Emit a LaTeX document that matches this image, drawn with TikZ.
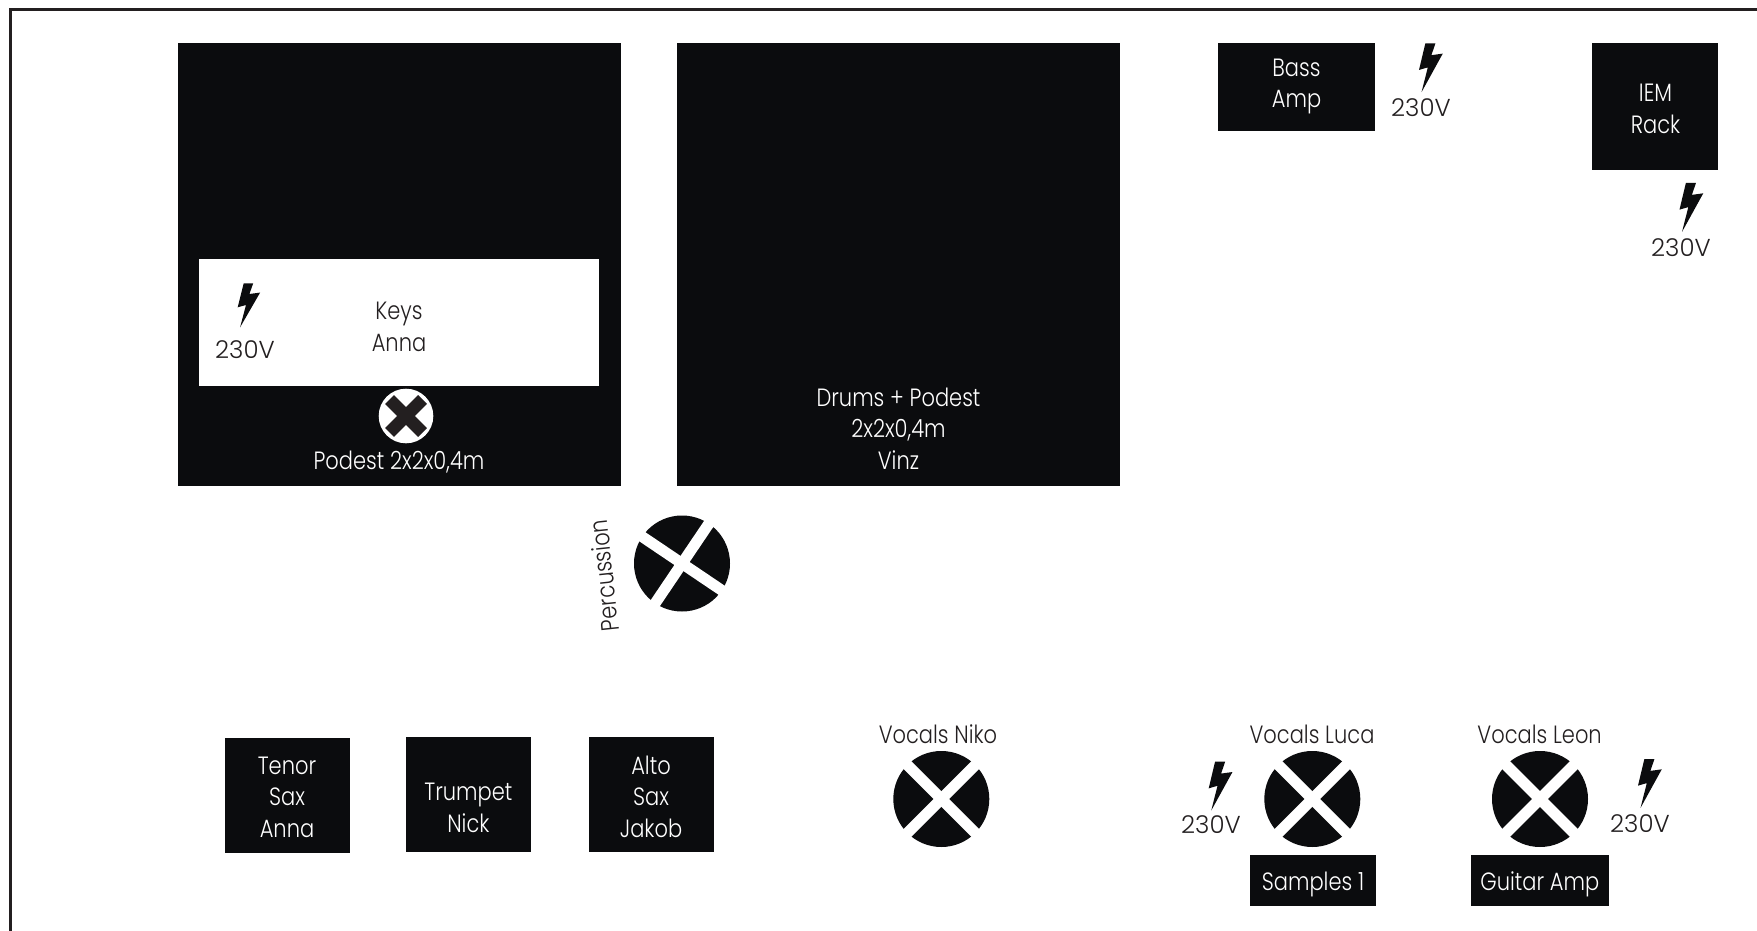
\documentclass[tikz,border=0pt]{standalone}
\usepackage{fontspec}
\setmainfont{Poppins Light}[FakeStretch=0.84]
\newfontfamily\voltfont{Poppins Light}
\definecolor{boxk}{HTML}{0B0C0E}
\definecolor{inkk}{HTML}{231F20}
\tikzset{
  lbl/.style={font=\fontsize{25}{31.6}\selectfont,align=center,inner sep=0pt,text=inkk},
  wlbl/.style={lbl,text=white},
  volt/.style={font=\voltfont\fontsize{24.5}{30}\selectfont,inner sep=0pt,text=inkk},
  blackbox/.style={fill=boxk,inner sep=0pt,minimum width=#1},
  mic/.style={circle,fill=boxk,minimum size=96pt,inner sep=0pt},
  gap/.style={draw=white,line width=11pt,shorten >=-6pt,shorten <=-6pt},
  pics/bolt/.style={code={\fill[boxk] (6,0)--(15.5,0)--(11.7,10.7)--(22.4,9.3)--(2.4,44)--(8.3,21.7)--(0,24)--cycle;}}
}
\begin{document}
\begin{tikzpicture}[x=1pt,y=-1pt]
\useasboundingbox (0,0) rectangle (1757,931);
\fill[white] (0,0) rectangle (1757,931);
\draw[line width=3.5pt,color=inkk] (10.5,931) -- (10.5,9.5) -- (1757,9.5);
% stage risers
\node[blackbox=443pt,minimum height=443pt] (keysriser) at (399.5,264.5) {};
\node[fill=white,minimum width=400pt,minimum height=126.5pt,inner sep=0pt] (keysdesk) at (399,322.5) {};
\node[lbl] (keys) at (399,327) {Keys\\Anna};
\node[circle,fill=white,minimum size=54.6pt,inner sep=0pt] (keysmic) at (406,416) {};
\draw[inkk,line width=12.5pt] ([shift={(-16.5,-16.5)}]keysmic.center) -- ([shift={(16.5,16.5)}]keysmic.center);
\draw[inkk,line width=12.5pt] ([shift={(16.5,-16.5)}]keysmic.center) -- ([shift={(-16.5,16.5)}]keysmic.center);
\node[wlbl] (podest) at (399,462.3) {Podest 2x2x0,4m};
\node[blackbox=443pt,minimum height=443pt] (drumsriser) at (898.5,264.5) {};
\node[wlbl] (drums) at (898.5,428.5) {Drums + Podest\\2x2x0,4m\\Vinz};
% back line
\node[blackbox=157pt,minimum height=88pt] (bass) at (1296.5,87.3) {};
\node[wlbl] (basst) at (1296.5,86.5) {Bass\\Amp};
\node[blackbox=126pt,minimum height=127pt] (iem) at (1655,107) {};
\node[wlbl] (iemt) at (1655.5,109) {IEM\\Rack};
% horns
\node[blackbox=124.6pt,minimum height=114.3pt] (tenor) at (287.3,795.5) {};
\node[wlbl] (tenort) at (287,797) {Tenor\\Sax\\Anna};
\node[blackbox=125.4pt,minimum height=114.6pt] (trumpet) at (468.3,794.3) {};
\node[wlbl] (trumpett) at (468.4,808) {Trumpet\\Nick};
\node[blackbox=124.4pt,minimum height=114.6pt] (alto) at (651.6,794.3) {};
\node[wlbl] (altot) at (651,796.5) {Alto\\Sax\\Jakob};
% mics
\node[mic] (perc) at (682,563.5) {};
\draw[gap] (perc.146) -- (perc.-34);
\draw[gap] (perc.56) -- (perc.236);
\node[lbl,rotate=96] (perclabel) at (604,575.5) {Percussion};
\foreach \n/\cx in {niko/941.3,luca/1312.3,leon/1540}{
  \node[mic] (\n) at (\cx,799) {};
  \draw[gap] (\n.north west) -- (\n.south east);
  \draw[gap] (\n.north east) -- (\n.south west);
}
\node[lbl] (nikolabel) at (938,734) {Vocals Niko};
\node[lbl] (lucalabel) at (1312,734) {Vocals Luca};
\node[lbl] (leonlabel) at (1539.6,734) {Vocals Leon};
\node[blackbox=126pt,minimum height=50.5pt] (samples) at (1313,880.5) {};
\node[wlbl] (samplest) at (1313,884.5) {Samples 1};
\node[blackbox=137.6pt,minimum height=50.5pt] (guitar) at (1539.8,880.5) {};
\node[wlbl] (guitart) at (1539.8,884.5) {Guitar Amp};
% power
\pic at (237.7,283.3) {bolt};
\node[volt] (vkeys) at (245,349.8) {230V};
\pic[xscale=1.06,yscale=1.11] at (1419,43.3) {bolt};
\node[volt] (vbass) at (1421,107.8) {230V};
\pic[xscale=1.06,yscale=1.11] at (1679.5,183) {bolt};
\node[volt] (viem) at (1681,247.8) {230V};
\pic[xscale=1.06,yscale=1.11] at (1208.7,761.7) {bolt};
\node[volt] (vluca) at (1211,825) {230V};
\pic[xscale=1.06,yscale=1.11] at (1638,759) {bolt};
\node[volt] (vleon) at (1640,824) {230V};
\end{tikzpicture}
\end{document}
